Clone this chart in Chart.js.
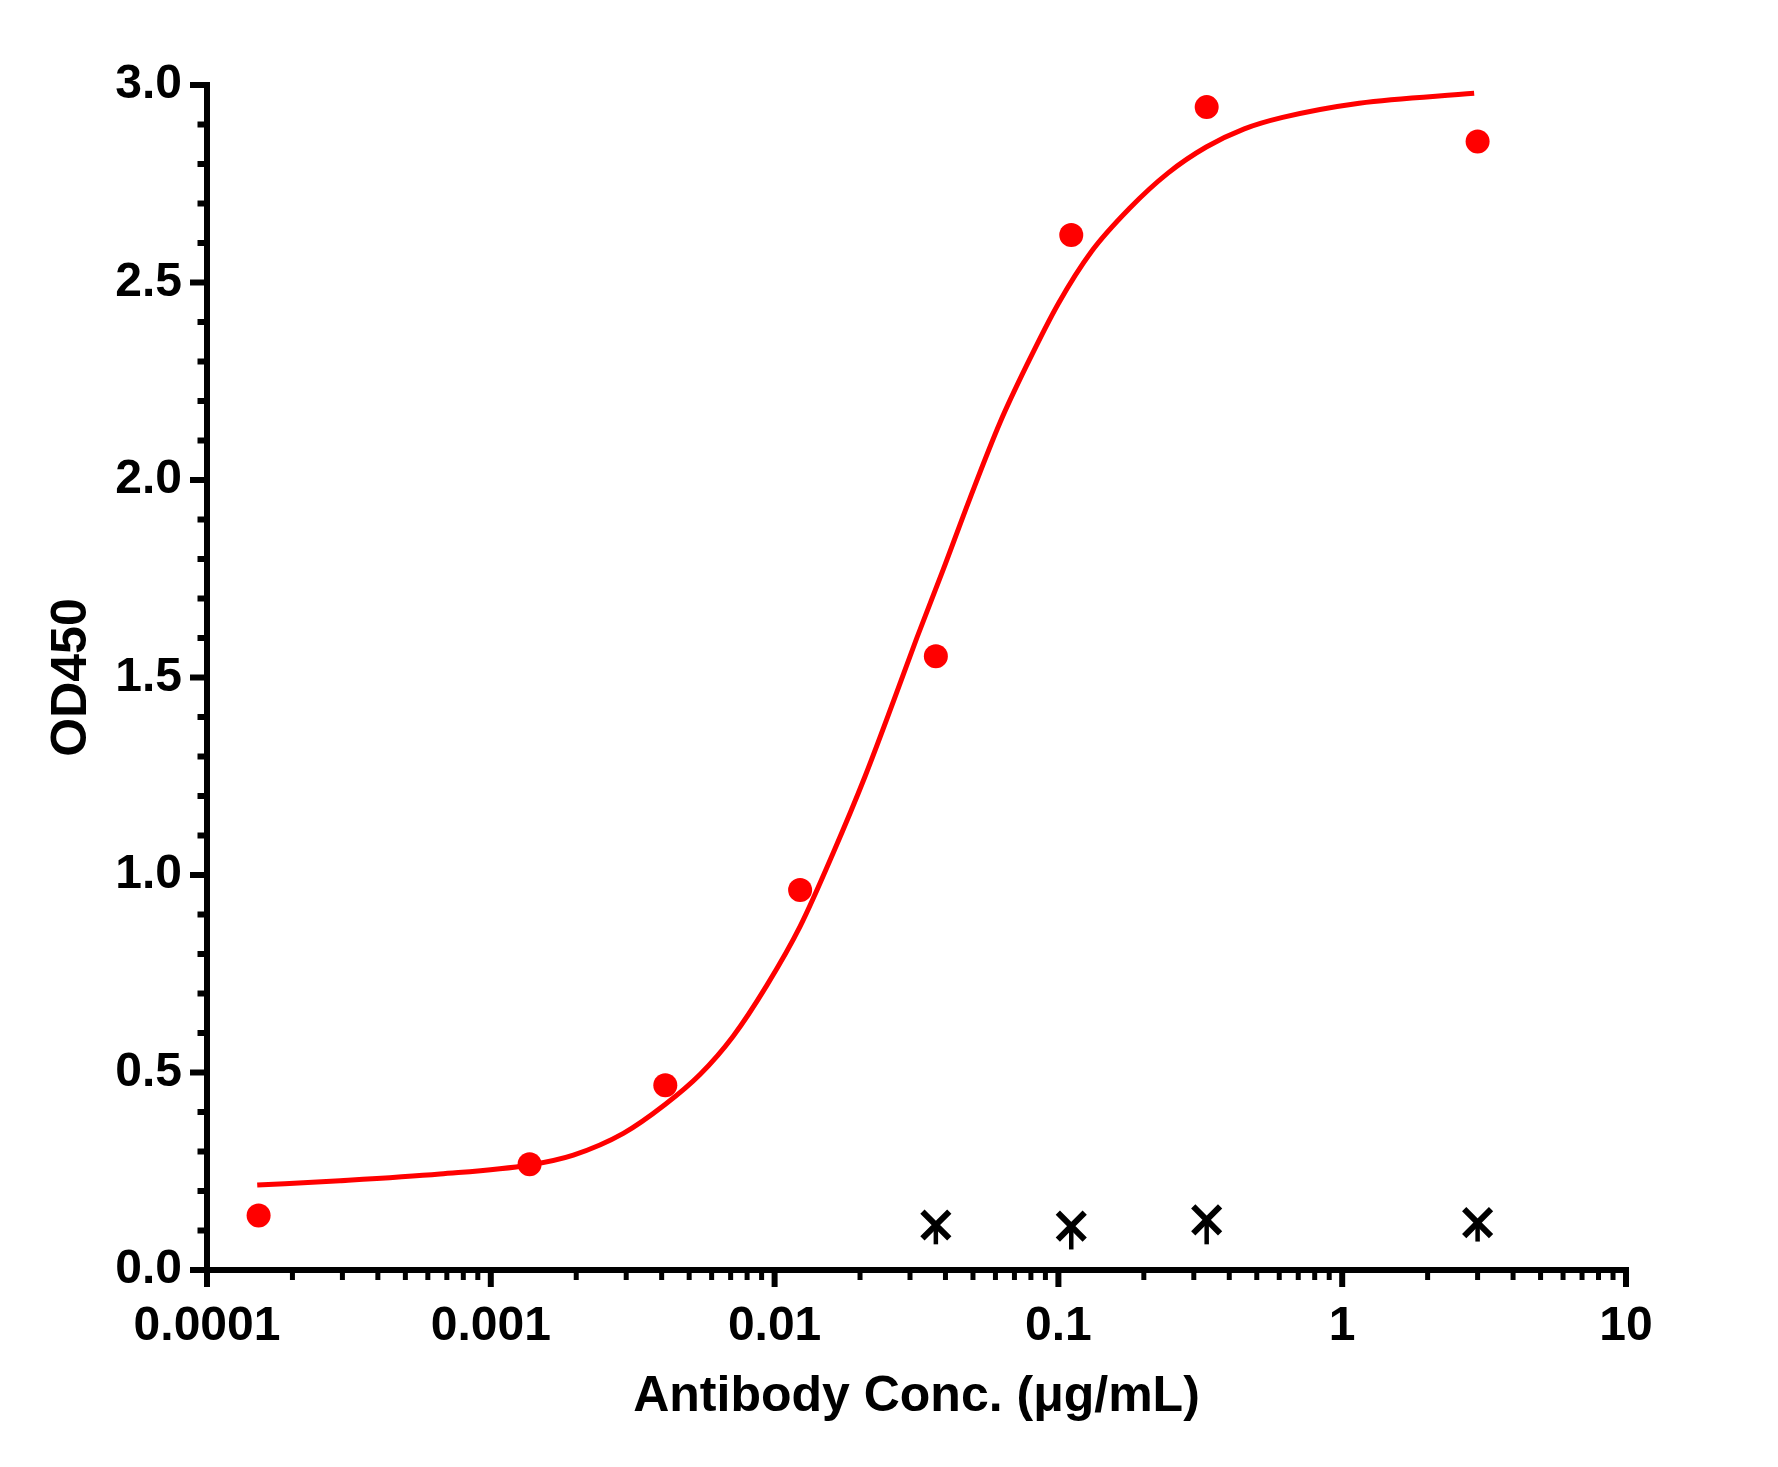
<!DOCTYPE html>
<html>
<head>
<meta charset="utf-8">
<script src="https://cdn.jsdelivr.net/npm/chart.js@4.4.1/dist/chart.umd.min.js"></script>
<style>
  html, body { margin: 0; padding: 0; background: #fff; }
  .chart-size { position: relative; width: 1778px; height: 1467px; }
</style>
</head>
<body>
<div class="chart-size"><canvas id="chart"></canvas></div>
<script>
// sample (red dots)
const concX = [0.000152, 0.00137, 0.00412, 0.0123, 0.037, 0.111, 0.333, 3];
const sampleOD = [0.138, 0.268, 0.468, 0.962, 1.554, 2.620, 2.944, 2.857];

// fitted curve
const curveX = [0.0001503, 0.0002944, 0.000662, 0.001368, 0.001954, 0.002931, 0.004111,
  0.005458, 0.007145, 0.009376, 0.01230, 0.01611, 0.02084, 0.02624, 0.03170, 0.03936,
  0.04887, 0.06223, 0.07727, 0.1, 0.1306, 0.1782, 0.2432, 0.3319, 0.4519, 0.6166,
  1.148, 2.917];
const curveOD = [0.215, 0.226, 0.243, 0.266, 0.291, 0.346, 0.419,
  0.495, 0.592, 0.720, 0.870, 1.057, 1.250, 1.440, 1.600, 1.775,
  1.955, 2.145, 2.290, 2.447, 2.578, 2.688, 2.777, 2.843, 2.889, 2.918,
  2.954, 2.979];

// blank (black crosses) with lower error bar
const blankX = [0.037, 0.111, 0.333, 3];
const blankOD = [0.114, 0.111, 0.127, 0.120];
const blankErrLow = [0.049, 0.059, 0.062, 0.048];

const xTickValues = [0.0001, 0.001, 0.01, 0.1, 1, 10];
const xTickLabels = ["0.0001", "0.001", "0.01", "0.1", "1", "10"];
const yTickValues = [0, 0.5, 1, 1.5, 2, 2.5, 3];
const yTickLabels = ["0.0", "0.5", "1.0", "1.5", "2.0", "2.5", "3.0"];

const RED = "#ff0000";
const FONT = "'Liberation Sans', Arial, Helvetica, sans-serif";

const axesPlugin = {
  id: "prismAxes",
  afterDraw(chart) {
    const ctx = chart.ctx;
    const xs = chart.scales.x, ys = chart.scales.y;
    const a = chart.chartArea;
    ctx.save();
    ctx.strokeStyle = "#000";
    ctx.lineCap = "butt";

    // error bars (down only)
    ctx.lineWidth = 4.5;
    blankX.forEach((v, i) => {
      const px = xs.getPixelForValue(v);
      ctx.beginPath();
      ctx.moveTo(px, ys.getPixelForValue(blankOD[i]));
      ctx.lineTo(px, ys.getPixelForValue(blankOD[i] - blankErrLow[i]));
      ctx.stroke();
    });

    // axis lines
    ctx.lineWidth = 6;
    ctx.beginPath();
    ctx.moveTo(a.left, a.top - 3);
    ctx.lineTo(a.left, a.bottom + 3);
    ctx.moveTo(a.left - 3, a.bottom);
    ctx.lineTo(a.right + 3, a.bottom);
    ctx.stroke();

    // x ticks
    for (let e = -4; e <= 1; e++) {
      for (let m = 1; m <= 9; m++) {
        const v = m * Math.pow(10, e);
        if (v > 10.0001) break;
        const px = xs.getPixelForValue(v);
        const major = m === 1;
        ctx.lineWidth = major ? 6 : 5;
        ctx.beginPath();
        ctx.moveTo(px, a.bottom);
        ctx.lineTo(px, a.bottom + (major ? 17 : 10));
        ctx.stroke();
      }
    }
    // y ticks
    for (let k = 0; k <= 30; k++) {
      const v = k / 10;
      const py = ys.getPixelForValue(v);
      const major = k % 5 === 0;
      ctx.lineWidth = 6;
      ctx.beginPath();
      ctx.moveTo(a.left, py);
      ctx.lineTo(a.left - (major ? 17 : 9.5), py);
      ctx.stroke();
    }
    ctx.restore();
  }
};

new Chart(document.getElementById("chart"), {
  type: "scatter",
  data: {
    datasets: [
      {
        label: "Fit",
        type: "line",
        data: curveX.map((x, i) => ({ x, y: curveOD[i] })),
        borderColor: RED,
        borderWidth: 5,
        pointRadius: 0,
        cubicInterpolationMode: "monotone",
        fill: false,
        clip: false
      },
      {
        label: "Sample",
        data: concX.map((x, i) => ({ x, y: sampleOD[i] })),
        backgroundColor: RED,
        borderColor: RED,
        pointRadius: 12,
        borderWidth: 0,
        clip: false
      },
      {
        label: "Blank",
        data: blankX.map((x, i) => ({ x, y: blankOD[i] })),
        pointStyle: "crossRot",
        pointRadius: 19,
        borderWidth: 6,
        borderColor: "#000",
        backgroundColor: "#000",
        clip: false
      }
    ]
  },
  options: {
    responsive: true,
    maintainAspectRatio: false,
    devicePixelRatio: 1,
    animation: false,
    events: [],
    layout: { padding: { left: 0, right: 152, top: 85, bottom: 0 } },
    plugins: { legend: { display: false }, tooltip: { enabled: false } },
    scales: {
      x: {
        type: "logarithmic",
        min: 0.0001,
        max: 10,
        grid: { display: false, drawTicks: false },
        border: { display: false },
        afterBuildTicks: axis => { axis.ticks = xTickValues.map(v => ({ value: v })); },
        afterFit: axis => { axis.height = 197; },
        ticks: {
          autoSkip: false,
          maxRotation: 0,
          padding: 28,
          color: "#000",
          font: { family: FONT, size: 48, weight: "bold" },
          callback: (value, index) => xTickLabels[index]
        },
        title: {
          display: true,
          text: "Antibody Conc. (μg/mL)",
          color: "#000",
          padding: 40,
          font: { family: FONT, size: 50, weight: "bold" }
        }
      },
      y: {
        type: "linear",
        min: 0,
        max: 3,
        grid: { display: false, drawTicks: false },
        border: { display: false },
        afterBuildTicks: axis => { axis.ticks = yTickValues.map(v => ({ value: v })); },
        afterFit: axis => { axis.width = 207; },
        ticks: {
          padding: 25,
          color: "#000",
          font: { family: FONT, size: 48, weight: "bold" },
          callback: (value, index) => yTickLabels[index]
        },
        title: {
          display: true,
          text: "OD450",
          color: "#000",
          padding: 42,
          font: { family: FONT, size: 50, weight: "bold" }
        }
      }
    }
  },
  plugins: [axesPlugin]
});
</script>
</body>
</html>
